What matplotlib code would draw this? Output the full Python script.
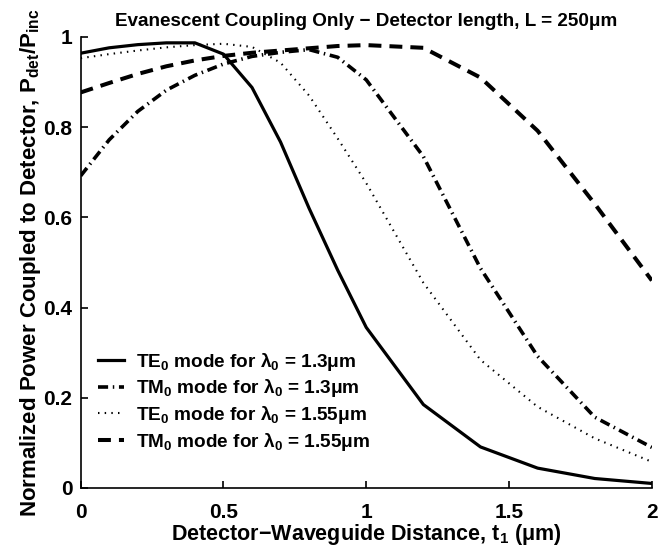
import matplotlib
matplotlib.use("Agg")
import matplotlib.pyplot as plt

plt.rcParams['font.family'] = ['Liberation Sans', 'DejaVu Sans']
plt.rcParams['font.weight'] = 'bold'
plt.rcParams['axes.labelweight'] = 'bold'
plt.rcParams['axes.titleweight'] = 'bold'
plt.rcParams['mathtext.fontset'] = 'custom'
plt.rcParams['mathtext.rm'] = 'Liberation Sans:bold'
plt.rcParams['mathtext.it'] = 'Liberation Sans:bold'
plt.rcParams['mathtext.bf'] = 'Liberation Sans:bold'
plt.rcParams['mathtext.default'] = 'rm'

# detector-waveguide spacing t1 (um)
t1 = [0, 0.1, 0.2, 0.3, 0.4, 0.5, 0.6, 0.7, 0.8, 0.9, 1.0, 1.2, 1.4, 1.6, 1.8, 2.0]

# coupled power fraction for each mode / wavelength
te0_1300 = [0.964, 0.976, 0.983, 0.987, 0.987, 0.962, 0.888, 0.767, 0.620, 0.483,
            0.356, 0.185, 0.091, 0.044, 0.021, 0.010]
tm0_1300 = [0.692, 0.772, 0.835, 0.882, 0.915, 0.940, 0.957, 0.966, 0.972, 0.955,
            0.905, 0.735, 0.487, 0.292, 0.157, 0.090]
te0_1550 = [0.953, 0.962, 0.970, 0.977, 0.982, 0.985, 0.978, 0.943, 0.870, 0.775,
            0.676, 0.455, 0.284, 0.180, 0.110, 0.058]
tm0_1550 = [0.877, 0.898, 0.918, 0.935, 0.948, 0.958, 0.965, 0.970, 0.975, 0.980,
            0.982, 0.976, 0.910, 0.792, 0.630, 0.460]

labels = [r'TE$_0$ mode for λ$_0$ = 1.3μm',
          r'TM$_0$ mode for λ$_0$ = 1.3μm',
          r'TE$_0$ mode for λ$_0$ = 1.55μm',
          r'TM$_0$ mode for λ$_0$ = 1.55μm']

fig = plt.figure(figsize=(6.72, 5.52), dpi=100)
ax = fig.add_axes([0.12, 0.116, 0.85, 0.817])

ax.plot(t1, te0_1300, color='black', lw=2.3, ls='-', label=labels[0])
ax.plot(t1, tm0_1300, color='black', lw=2.6, dashes=(2.8, 1.3, 0.4, 1.3), label=labels[1])
ax.plot(t1, te0_1550, color='black', lw=1.5, dashes=(0.7, 2.5), label=labels[2])
ax.plot(t1, tm0_1550, color='black', lw=2.9, dashes=(3.2, 2), label=labels[3])

ax.set_xlim(0, 2)
ax.set_ylim(0, 1)
ax.set_xticks([0, 0.5, 1, 1.5, 2])
ax.set_xticklabels(['0', '0.5', '1', '1.5', '2'], fontweight='bold')
ax.set_yticks([0, 0.2, 0.4, 0.6, 0.8, 1])
ax.set_yticklabels(['0', '0.2', '0.4', '0.6', '0.8', '1'], fontweight='bold')
ax.tick_params(direction='in', length=5, width=1.2, labelsize=15)
ax.tick_params(axis='x', pad=11)
ax.tick_params(axis='y', pad=6)
for s in ['top', 'right']:
    ax.spines[s].set_visible(False)
for s in ['left', 'bottom']:
    ax.spines[s].set_linewidth(1.2)

ax.set_title('Evanescent Coupling Only − Detector length, L = 250μm',
             fontsize=13.6, fontweight='bold', pad=8)
ax.set_xlabel(r'Detector−Waveguide Distance, t$_1$ (μm)', fontsize=15.5,
              fontweight='bold', labelpad=0)
ax.set_ylabel(r'Normalized Power Coupled to Detector, P$_{det}$/P$_{inc}$', fontsize=16,
              fontweight='bold', labelpad=0)

ax.legend(loc='lower left', bbox_to_anchor=(0.0, 0.04), frameon=False,
          prop={'size': 13.7, 'weight': 'bold'},
          handlelength=1.4, handletextpad=0.6, labelspacing=0.25)

fig.savefig('out.png', dpi=100)
